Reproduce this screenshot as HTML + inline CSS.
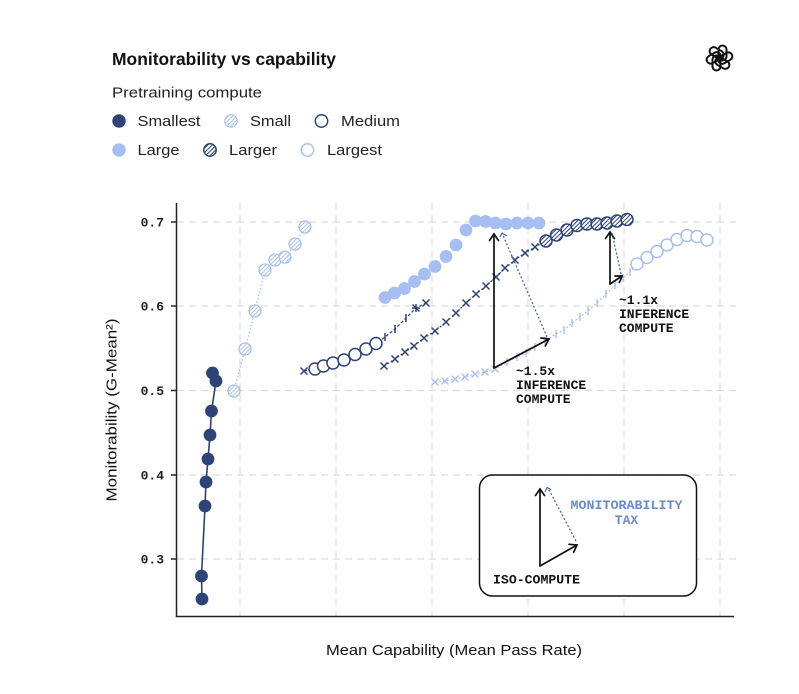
<!DOCTYPE html>
<html><head><meta charset="utf-8"><style>
html,body{margin:0;padding:0;background:#fff;}
svg{display:block;}
.sans{font-family:"Liberation Sans",sans-serif;}
.mono{font-family:"Liberation Mono",monospace;font-weight:bold;}
</style></head><body>
<svg width="799" height="694" viewBox="0 0 799 694" xmlns="http://www.w3.org/2000/svg">
<defs>
<pattern id="hl" patternUnits="userSpaceOnUse" width="3" height="3" patternTransform="rotate(45)">
<rect width="3" height="3" fill="#fff"/><line x1="0.5" y1="0" x2="0.5" y2="3" stroke="#a8c0ee" stroke-width="1"/></pattern>
<pattern id="hn" patternUnits="userSpaceOnUse" width="3" height="3" patternTransform="rotate(45)">
<rect width="3" height="3" fill="#fff"/><line x1="0.5" y1="0" x2="0.5" y2="3" stroke="#2c4477" stroke-width="1"/></pattern>
</defs>
<rect width="799" height="694" fill="#fff"/>

<!-- Title & legend -->
<text x="112" y="65" class="sans" font-size="17.5" font-weight="bold" fill="#111" textLength="224" lengthAdjust="spacingAndGlyphs">Monitorability vs capability</text>
<text x="112" y="97.5" class="sans" font-size="14.5" fill="#222" textLength="150" lengthAdjust="spacingAndGlyphs">Pretraining compute</text>

<circle cx="119" cy="121" r="6.7" fill="#2c4477"/>
<text x="137.5" y="126" class="sans" font-size="14.5" fill="#222" textLength="63" lengthAdjust="spacingAndGlyphs">Smallest</text>
<circle cx="231" cy="121" r="6.2" fill="url(#hl)" stroke="#a8c0ee" stroke-width="1.2"/>
<text x="250" y="126" class="sans" font-size="14.5" fill="#222" textLength="41" lengthAdjust="spacingAndGlyphs">Small</text>
<circle cx="321.5" cy="121" r="6.2" fill="#fff" stroke="#2c4477" stroke-width="1.5"/>
<text x="341" y="126" class="sans" font-size="14.5" fill="#222" textLength="59" lengthAdjust="spacingAndGlyphs">Medium</text>

<circle cx="119" cy="150" r="6.7" fill="#a6bef2"/>
<text x="137.5" y="155" class="sans" font-size="14.5" fill="#222" textLength="42" lengthAdjust="spacingAndGlyphs">Large</text>
<circle cx="210" cy="150" r="6.2" fill="url(#hn)" stroke="#2c4477" stroke-width="1.5"/>
<text x="229" y="155" class="sans" font-size="14.5" fill="#222" textLength="48" lengthAdjust="spacingAndGlyphs">Larger</text>
<circle cx="307.5" cy="150" r="6.2" fill="#fff" stroke="#a8c0ee" stroke-width="1.5"/>
<text x="327" y="155" class="sans" font-size="14.5" fill="#222" textLength="55" lengthAdjust="spacingAndGlyphs">Largest</text>

<!-- Logo -->
<g transform="translate(719.5,58)" fill="none" stroke="#111" stroke-width="2">
<rect x="-1" y="-12.5" width="8" height="15" rx="4"/>
<rect x="-1" y="-12.5" width="8" height="15" rx="4" transform="rotate(60)"/>
<rect x="-1" y="-12.5" width="8" height="15" rx="4" transform="rotate(120)"/>
<rect x="-1" y="-12.5" width="8" height="15" rx="4" transform="rotate(180)"/>
<rect x="-1" y="-12.5" width="8" height="15" rx="4" transform="rotate(240)"/>
<rect x="-1" y="-12.5" width="8" height="15" rx="4" transform="rotate(300)"/>
</g>

<!-- Grid -->
<g stroke="#dcdcdc" stroke-width="1.2" stroke-dasharray="7 5" fill="none">
<line x1="177" y1="222" x2="736" y2="222"/>
<line x1="177" y1="306" x2="736" y2="306"/>
<line x1="177" y1="390.5" x2="736" y2="390.5"/>
<line x1="177" y1="475" x2="736" y2="475"/>
<line x1="177" y1="559" x2="736" y2="559"/>
<line x1="240" y1="203" x2="240" y2="616"/>
<line x1="336" y1="203" x2="336" y2="616"/>
<line x1="432" y1="203" x2="432" y2="616"/>
<line x1="528" y1="203" x2="528" y2="616"/>
<line x1="624" y1="203" x2="624" y2="616"/>
<line x1="720" y1="203" x2="720" y2="616"/>
</g>

<!-- Axes -->
<g stroke="#222" stroke-width="1.5" fill="none">
<line x1="176.5" y1="203" x2="176.5" y2="617"/>
<line x1="175.8" y1="616.5" x2="734" y2="616.5"/>
<line x1="171" y1="222" x2="176.5" y2="222"/>
<line x1="171" y1="306" x2="176.5" y2="306"/>
<line x1="171" y1="390.5" x2="176.5" y2="390.5"/>
<line x1="171" y1="475" x2="176.5" y2="475"/>
<line x1="171" y1="559" x2="176.5" y2="559"/>
</g>
<g class="mono" font-size="13" fill="#222" text-anchor="end">
<text x="164" y="226.5">0.7</text>
<text x="164" y="310.5">0.6</text>
<text x="164" y="395">0.5</text>
<text x="164" y="479.5">0.4</text>
<text x="164" y="563.5">0.3</text>
</g>
<text x="454" y="655" class="sans" font-size="15" fill="#111" text-anchor="middle" textLength="256" lengthAdjust="spacingAndGlyphs">Mean Capability (Mean Pass Rate)</text>
<text transform="translate(116.5,410) rotate(-90)" x="0" y="0" class="sans" font-size="15" fill="#111" text-anchor="middle" textLength="183" lengthAdjust="spacingAndGlyphs">Monitorability (G-Mean²)</text>

<!-- Small series (hatched light blue) -->
<polyline points="234,391 245,349 255,311 265,270 275,260 285,257 295,244 305,227" fill="none" stroke="#a8c0ee" stroke-width="1.3" stroke-dasharray="1.5 2"/>
<g fill="url(#hl)" stroke="#a8c0ee" stroke-width="1.3">
<circle cx="234" cy="391" r="6"/><circle cx="245" cy="349" r="6"/><circle cx="255" cy="311" r="6"/><circle cx="265" cy="270" r="6"/><circle cx="275" cy="260" r="6"/><circle cx="285" cy="257" r="6"/><circle cx="295" cy="244" r="6"/><circle cx="305" cy="227" r="6"/>
</g>

<!-- Smallest series -->
<polyline points="202,599 201.5,576 205,506 206,482 208,459 210,435 211.5,411 216,381 212.5,373" fill="none" stroke="#2c4477" stroke-width="1.6"/>
<g fill="#2c4477">
<circle cx="202" cy="599" r="6.4"/><circle cx="201.5" cy="576" r="6.4"/><circle cx="205" cy="506" r="6.4"/><circle cx="206" cy="482" r="6.4"/><circle cx="208" cy="459" r="6.4"/><circle cx="210" cy="435" r="6.4"/><circle cx="211.5" cy="411" r="6.4"/><circle cx="216" cy="381" r="6.4"/><circle cx="212.5" cy="373" r="6.4"/>
</g>

<!-- Largest lower x-line (light blue) -->
<polyline points="435,382 445,381 455,379 465,377 475,374 485,372 495,369 507,362 517,357 526,353 535,347 545,341 556,334 564,330 572,323 580,317 588,311 597,303 606,294 615,285 623,278 630,272 637,264" fill="none" stroke="#a8c0ee" stroke-width="1.2" stroke-dasharray="2 2"/>
<g stroke="#a8c0ee" stroke-width="1.4" fill="none">
<path d="M431.5,378.5l7,7M438.5,378.5l-7,7"/>
<path d="M441.5,377.5l7,7M448.5,377.5l-7,7"/>
<path d="M451.5,375.5l7,7M458.5,375.5l-7,7"/>
<path d="M461.5,373.5l7,7M468.5,373.5l-7,7"/>
<path d="M471.5,370.5l7,7M478.5,370.5l-7,7"/>
<path d="M481.5,368.5l7,7M488.5,368.5l-7,7"/>
<path d="M491.5,365.5l7,7M498.5,365.5l-7,7"/>
<path d="M507,358v8M517,353v8M526,349v8M535,343v8M545,337v8M556,330v8M564,326v8M572,319v8M580,313v8M588,307v8M597,299v8M606,290v8M615,281v8M623,274v8M630,268v8"/>
</g>
<g fill="#fff" stroke="#a8c0ee" stroke-width="1.5">
<circle cx="637" cy="264" r="6"/><circle cx="647" cy="257.5" r="6"/><circle cx="657" cy="251.5" r="6"/><circle cx="667" cy="245" r="6"/><circle cx="677" cy="239.5" r="6"/><circle cx="687" cy="235.5" r="6"/><circle cx="697" cy="236.5" r="6"/><circle cx="707" cy="240" r="6"/>
</g>

<!-- Large series (filled light blue) -->
<g fill="#a6bef2">
<circle cx="385" cy="297.5" r="6.4"/><circle cx="394.5" cy="293" r="6.4"/><circle cx="404.5" cy="288.5" r="6.4"/><circle cx="414.5" cy="281.5" r="6.4"/><circle cx="424.5" cy="274" r="6.4"/><circle cx="435" cy="266.5" r="6.4"/><circle cx="446" cy="256.5" r="6.4"/><circle cx="456" cy="245" r="6.4"/><circle cx="466" cy="230" r="6.4"/><circle cx="475.5" cy="221" r="6.4"/><circle cx="485.5" cy="221.5" r="6.4"/><circle cx="495.5" cy="223" r="6.4"/><circle cx="506" cy="224" r="6.4"/><circle cx="517" cy="223" r="6.4"/><circle cx="528" cy="223" r="6.4"/><circle cx="539" cy="223" r="6.4"/>
</g>

<!-- Medium series -->
<polyline points="304,371 315,369 323,366 333,363 344,360 355,354 366,349 376,344 385,337 395,329 406,318 416,308 426,303" fill="none" stroke="#2c4477" stroke-width="1.2" stroke-dasharray="3 2"/>
<g stroke="#2c4477" stroke-width="1.5" fill="none">
<path d="M300.5,367.5l7,7M307.5,367.5l-7,7"/>
<path d="M385,333v8M395,325v8M406,314v8"/>
<path d="M412.5,304.5l7,7M412,308h8M416,304v8"/>
<path d="M422.5,299.5l7,7M429.5,299.5l-7,7"/>
</g>
<g fill="#fff" stroke="#2c4477" stroke-width="1.5">
<circle cx="315" cy="369" r="6"/><circle cx="323.5" cy="366" r="6"/><circle cx="333" cy="363" r="6"/><circle cx="344" cy="360" r="6"/><circle cx="355" cy="354.5" r="6"/><circle cx="366" cy="349" r="6"/><circle cx="376" cy="343.5" r="6"/>
</g>

<!-- Larger lower x-line (navy) -->
<polyline points="384,366 395,359 405,352 414,346 424,338 435,331 446,322 456,313 466,303 476,294 486,286 496,277 505,268 515,260 525,253 535,247 546,241" fill="none" stroke="#2c4477" stroke-width="1.2" stroke-dasharray="2 2"/>
<g stroke="#2c4477" stroke-width="1.5" fill="none">
<path d="M380.5,362.5l7,7M387.5,362.5l-7,7"/>
<path d="M391.5,355.5l7,7M398.5,355.5l-7,7"/>
<path d="M401.5,348.5l7,7M408.5,348.5l-7,7"/>
<path d="M410.5,342.5l7,7M417.5,342.5l-7,7"/>
<path d="M420.5,334.5l7,7M427.5,334.5l-7,7"/>
<path d="M431.5,327.5l7,7M438.5,327.5l-7,7"/>
<path d="M442.5,318.5l7,7M449.5,318.5l-7,7"/>
<path d="M452.5,309.5l7,7M459.5,309.5l-7,7"/>
<path d="M462.5,299.5l7,7M469.5,299.5l-7,7"/>
<path d="M472.5,290.5l7,7M479.5,290.5l-7,7"/>
<path d="M482.5,282.5l7,7M489.5,282.5l-7,7"/>
<path d="M492.5,273.5l7,7M499.5,273.5l-7,7"/>
<path d="M501.5,264.5l7,7M508.5,264.5l-7,7"/>
<path d="M511.5,256.5l7,7M518.5,256.5l-7,7"/>
<path d="M521.5,249.5l7,7M528.5,249.5l-7,7"/>
<path d="M531.5,243.5l7,7M538.5,243.5l-7,7"/>
</g>
<g fill="url(#hn)" stroke="#2c4477" stroke-width="1.5">
<circle cx="546" cy="241" r="6"/><circle cx="556.5" cy="235" r="6"/><circle cx="567" cy="230" r="6"/><circle cx="577" cy="225.5" r="6"/><circle cx="587" cy="224" r="6"/><circle cx="597" cy="224" r="6"/><circle cx="607" cy="223" r="6"/><circle cx="617" cy="221" r="6"/><circle cx="627" cy="219.5" r="6"/>
</g>

<!-- Annotation 1 -->
<g stroke="#111" stroke-width="1.7" fill="none" stroke-linecap="round">
<line x1="494" y1="368" x2="494" y2="234"/>
<path d="M489.5,240.5L494,234L498.5,240.5"/>
<line x1="494" y1="368" x2="549" y2="339"/>
<path d="M541,338L549,339L545.3,346"/>
</g>
<g stroke="#3f5f9f" stroke-width="1.2" fill="none" stroke-dasharray="2 2">
<line x1="547" y1="337" x2="502" y2="233"/>
</g>
<path d="M500,237L502,233L507,236" stroke="#3f5f9f" stroke-width="1.1" fill="none"/>
<g class="mono" font-size="13" fill="#111">
<text x="516" y="375">~1.5x</text>
<text x="516" y="389">INFERENCE</text>
<text x="516" y="403">COMPUTE</text>
</g>

<!-- Annotation 2 -->
<g stroke="#111" stroke-width="1.7" fill="none" stroke-linecap="round">
<line x1="610" y1="284" x2="610" y2="232"/>
<path d="M605.5,238.5L610,232L614.5,238.5"/>
<line x1="610" y1="284" x2="622" y2="276"/>
<path d="M615,276L622,276L619.5,282.5"/>
</g>
<g stroke="#3f5f9f" stroke-width="1.2" fill="none" stroke-dasharray="2 2">
<line x1="621" y1="274" x2="612" y2="233"/>
</g>
<g class="mono" font-size="13" fill="#111">
<text x="619" y="304">~1.1x</text>
<text x="619" y="318">INFERENCE</text>
<text x="619" y="332">COMPUTE</text>
</g>

<!-- Inset -->
<rect x="479.5" y="475" width="217" height="121" rx="13" ry="13" fill="#fff" stroke="#111" stroke-width="1.5"/>
<g stroke="#111" stroke-width="1.7" fill="none" stroke-linecap="round">
<line x1="540" y1="566" x2="540" y2="489"/>
<path d="M535.5,495.5L540,489L544.5,495.5"/>
<line x1="540" y1="566" x2="577" y2="545"/>
<path d="M569,544.3L577,545L573.6,552.2"/>
</g>
<g stroke="#3f5f9f" stroke-width="1.2" fill="none" stroke-dasharray="2 2">
<line x1="576" y1="541" x2="548" y2="488"/>
</g>
<path d="M545,492L547,487.5L551,489.5" stroke="#3f5f9f" stroke-width="1.1" fill="none"/>
<g class="mono" font-size="13" fill="#6b8acb" text-anchor="middle">
<text x="626.5" y="509" textLength="112" lengthAdjust="spacingAndGlyphs">MONITORABILITY</text>
<text x="626.5" y="524">TAX</text>
</g>
<text x="493" y="583.5" class="mono" font-size="13" fill="#111" textLength="87" lengthAdjust="spacingAndGlyphs">ISO-COMPUTE</text>
</svg>
</body></html>
